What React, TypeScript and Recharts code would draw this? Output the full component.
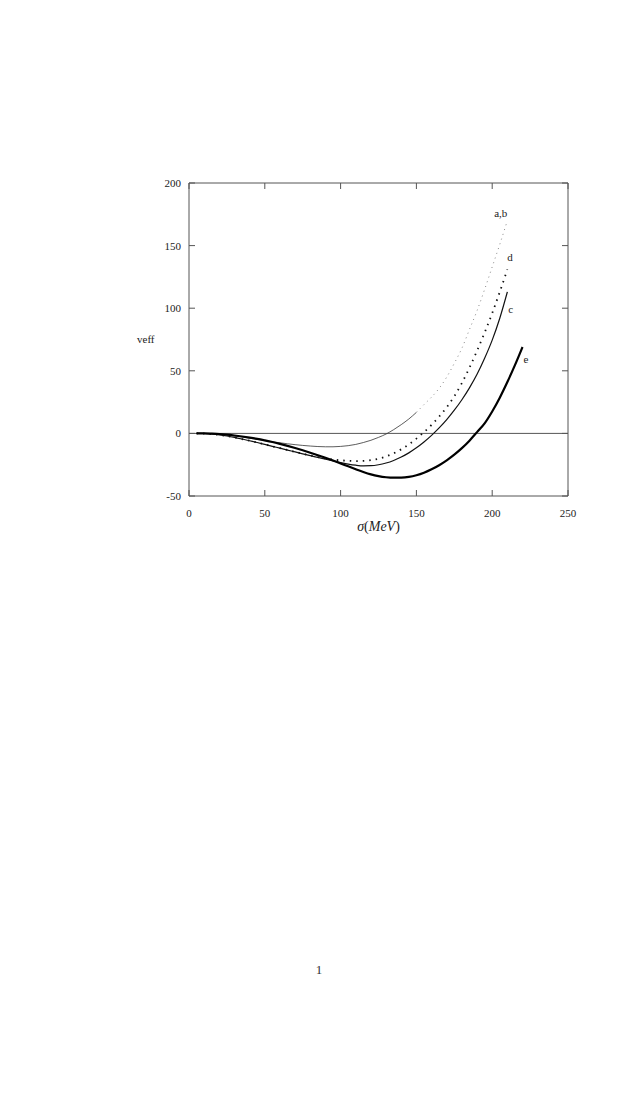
import React from 'react'
import { LineChart, Line, XAxis, YAxis, ReferenceLine, LabelList } from 'recharts'

// sigma (MeV) positions and veff values
const xA = [5, 10, 15, 20, 25, 30, 35, 40, 45, 50, 55, 60, 65, 70, 75, 80, 85, 90, 95, 100, 105, 110, 115, 120, 125, 130, 135, 140, 145, 150]
const yA = [0, 0, -0.2, -0.6, -1.2, -2, -2.8, -3.8, -4.8, -5.8, -6.7, -7.5, -8.3, -9, -9.6, -10.1, -10.5, -10.7, -10.7, -10.4, -9.8, -8.8, -7.3, -5.5, -3.2, -0.5, 3, 7, 11.5, 16.8]

const xB = [150, 155, 160, 165, 170, 175, 180, 185, 190, 195, 200, 205, 210]
const yB = [16.8, 23, 29, 36, 45, 56, 68, 83, 98, 115, 133, 151, 170]

const xD = [5, 10, 15, 20, 25, 30, 35, 40, 45, 50, 55, 60, 65, 70, 75, 80, 85, 90, 95, 100, 105, 110, 115, 120, 125, 130, 135, 140, 145, 150, 155, 160, 165, 170, 175, 180, 185, 190, 195, 200, 205, 210]
const yD = [0, -0.1, -0.5, -1.2, -2.1, -3.2, -4.5, -5.9, -7.3, -8.8, -10.3, -11.8, -13.3, -14.8, -16.2, -17.6, -18.9, -20, -20.9, -21.5, -21.9, -22.1, -22, -21.4, -20.2, -18.4, -15.9, -12.7, -8.8, -4.2, 1, 6.8, 13.4, 20.9, 29.7, 40.2, 52.5, 66, 80.5, 96, 113, 131]

const xC = [5, 10, 15, 20, 25, 30, 35, 40, 45, 50, 55, 60, 65, 70, 75, 80, 85, 90, 95, 100, 105, 110, 115, 120, 125, 130, 135, 140, 145, 150, 155, 160, 165, 170, 175, 180, 185, 190, 195, 200, 205, 210]
const yC = [0, -0.1, -0.5, -1.2, -2.1, -3.2, -4.5, -5.9, -7.3, -8.8, -10.3, -11.8, -13.3, -14.8, -16.3, -17.8, -19.2, -20.6, -22, -23.3, -24.5, -25.4, -25.9, -25.8, -25.05, -23.65, -21.6, -18.9, -15.55, -11.55, -6.9, -1.6, 4.35, 11, 18.5, 26.9, 36.4, 47.2, 60, 74.5, 92, 113]

const xE = [5, 10, 15, 20, 25, 30, 35, 40, 45, 50, 55, 60, 65, 70, 75, 80, 85, 90, 95, 100, 105, 110, 115, 120, 125, 130, 135, 140, 145, 150, 155, 160, 165, 170, 175, 180, 185, 190, 195, 200, 205, 210, 215, 220]
const yE = [0, 0, -0.2, -0.5, -1, -1.7, -2.5, -3.4, -4.4, -5.6, -6.9, -8.4, -10, -11.7, -13.5, -15.4, -17.4, -19.5, -21.7, -24, -26.3, -28.6, -30.8, -32.7, -34.1, -35, -35.4, -35.3, -34.7, -33.4, -31.4, -28.7, -25.4, -21.5, -17, -11.8, -5.8, 1, 8, 17.5, 28.5, 41, 54.5, 69]

const xTicks = [0, 50, 100, 150, 200, 250]
const yTicks = [-50, 0, 50, 100, 150, 200]

const pts = (xs: number[], ys: number[]) => xs.map((x, i) => ({ x, y: ys[i] }))

const font = '"Liberation Serif", "DejaVu Serif", serif'
const axisColor = '#555'

const BottomTick = (props: any) => {
  const { x, y, payload } = props
  return (
    <g>
      <line x1={x} x2={x} y1={y} y2={y - 6} stroke={axisColor} />
      <text x={x} y={y + 21} textAnchor="middle" fontSize={11} fontFamily={font} fill="#222">
        {payload.value}
      </text>
    </g>
  )
}

const LeftTick = (props: any) => {
  const { x, y, payload } = props
  return (
    <g>
      <line x1={x} x2={x + 6} y1={y} y2={y} stroke={axisColor} />
      <text x={x - 8} y={y + 4} textAnchor="end" fontSize={11} fontFamily={font} fill="#222">
        {payload.value}
      </text>
    </g>
  )
}

const TopTick = (props: any) => {
  const { x, y } = props
  return <line x1={x} x2={x} y1={y} y2={y + 6} stroke={axisColor} />
}

const RightTick = (props: any) => {
  const { x, y } = props
  return <line x1={x} x2={x - 6} y1={y} y2={y} stroke={axisColor} />
}

const endLabel = (text: string, last: number, dx: number, dy: number, anchor: string) => (p: any) => {
  if (p.index !== last) return null
  return (
    <text x={p.x + dx} y={p.y + dy} textAnchor={anchor} fontSize={11} fontFamily={font} fill="#222">
      {text}
    </text>
  )
}

const XLabel = (p: any) => {
  const vb = p.viewBox
  return (
    <text x={vb.x + vb.width / 2} y={vb.y + 35} textAnchor="middle" fontSize={14} fontFamily={font} fill="#222">
      <tspan fontStyle="italic">σ</tspan>
      <tspan>(</tspan>
      <tspan fontStyle="italic">MeV</tspan>
      <tspan>)</tspan>
    </text>
  )
}

export default function App() {
  return (
    <div style={{ position: 'absolute', left: 0, top: 0, width: 638, height: 1100, background: '#fff' }}>
      <LineChart width={638} height={560} margin={{ top: 182, right: 69, left: 137, bottom: 24 }}>
        <XAxis
          type="number"
          dataKey="x"
          domain={[0, 250]}
          ticks={xTicks}
          stroke={axisColor}
          tickLine={false}
          tickSize={0}
          tickMargin={0}
          tick={<BottomTick />}
          height={40}
          label={<XLabel />}
        />
        <XAxis
          xAxisId="top"
          orientation="top"
          type="number"
          dataKey="x"
          domain={[0, 250]}
          ticks={xTicks}
          stroke={axisColor}
          tickLine={false}
          tickSize={0}
          tickMargin={0}
          tick={<TopTick />}
          height={1}
        />
        <YAxis
          type="number"
          domain={[-50, 200]}
          ticks={yTicks}
          stroke={axisColor}
          tickLine={false}
          tickSize={0}
          tickMargin={0}
          tick={<LeftTick />}
          width={52}
          label={{ value: 'veff', position: 'insideLeft', offset: 0, angle: 0, fontSize: 11, fontFamily: font, fill: '#222' }}
        />
        <YAxis
          yAxisId="right"
          orientation="right"
          type="number"
          domain={[-50, 200]}
          ticks={yTicks}
          stroke={axisColor}
          tickLine={false}
          tickSize={0}
          tickMargin={0}
          tick={<RightTick />}
          width={1}
        />
        <ReferenceLine y={0} stroke={axisColor} strokeWidth={1} />
        {/* invisible series so the top / right frame axes get rendered */}
        <Line xAxisId="top" yAxisId="right" data={pts(xE, yE)} dataKey="y" stroke="none" dot={false} activeDot={false} isAnimationActive={false} />
        <Line data={pts(xA, yA)} dataKey="y" type="monotone" stroke="#333" strokeWidth={0.8} dot={false} isAnimationActive={false} />
        <Line data={pts(xB, yB)} dataKey="y" type="monotone" stroke="#888" strokeWidth={1} strokeDasharray="1 4" dot={false} isAnimationActive={false}>
          <LabelList dataKey="y" content={endLabel('a,b', xB.length - 1, 0, -4, 'end')} />
        </Line>
        <Line data={pts(xD, yD)} dataKey="y" type="monotone" stroke="#111" strokeWidth={1.8} strokeDasharray="1.5 5" dot={false} isAnimationActive={false}>
          <LabelList dataKey="y" content={endLabel('d', xD.length - 1, 0, -8, 'start')} />
        </Line>
        <Line data={pts(xC, yC)} dataKey="y" type="monotone" stroke="#111" strokeWidth={1.2} dot={false} isAnimationActive={false}>
          <LabelList dataKey="y" content={endLabel('c', xC.length - 1, 1, 21, 'start')} />
        </Line>
        <Line data={pts(xE, yE)} dataKey="y" type="monotone" stroke="#000" strokeWidth={2.2} dot={false} isAnimationActive={false}>
          <LabelList dataKey="y" content={endLabel('e', xE.length - 1, 1, 16, 'start')} />
        </Line>
      </LineChart>
      <div style={{ position: 'absolute', left: 0, top: 962, width: 638, textAlign: 'center', fontFamily: font, fontSize: 13, color: '#333' }}>
        1
      </div>
    </div>
  )
}
